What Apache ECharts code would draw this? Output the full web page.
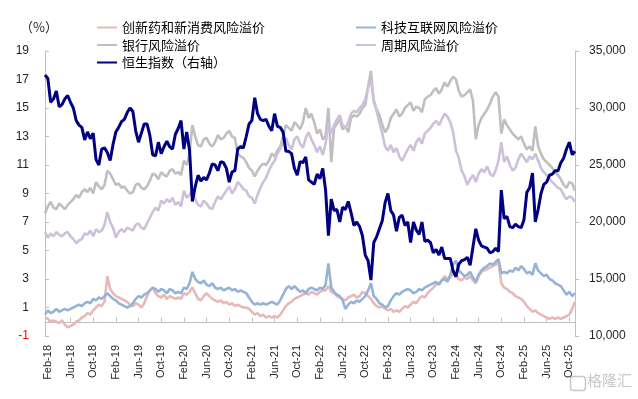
<!DOCTYPE html>
<html>
<head>
<meta charset="utf-8">
<script src="https://cdn.jsdelivr.net/npm/echarts@6/dist/echarts.min.js"></script>
<style>
  html, body { margin: 0; padding: 0; background: #fff; }
  #chart { width: 638px; height: 399px; }
</style>
</head>
<body>
<div id="chart"></div>
<script>
// 半月采样：2018-01-16 起，每月1日、16日，至 2025-11-01
var monthNames = ['Jan', 'Feb', 'Mar', 'Apr', 'May', 'Jun', 'Jul', 'Aug', 'Sep', 'Oct', 'Nov', 'Dec']
var labelMonths = [2, 6, 10]
var dates = ['2018-01-16']
for (var y = 2018; y <= 2025; y++) {
  var m0 = y === 2018 ? 2 : 1
  var m1 = y === 2025 ? 10 : 12
  for (var m = m0; m <= m1; m++) {
    var mm = m < 10 ? '0' + m : '' + m
    dates.push(y + '-' + mm + '-01', y + '-' + mm + '-16')
  }
}
dates.push('2025-11-01')

var leftTicks = { min: -1, max: 19, interval: 2 }
var rightTicks = { min: 10000, max: 35000, interval: 5000 }

// 创新药和新消费风险溢价
var pharmaConsumer = [
  0.3, 0.2, 0.0, 0.1, 0.0, -0.1, 0.1, -0.2, -0.4, -0.3, -0.2, 0.0, 0.1, 0.3, 0.4, 0.6, 0.5, 0.8, 1.0, 1.2, 1.1, 1.4, 3.2,
  2.3, 2.0, 1.8, 1.7, 1.6, 1.5, 1.4, 1.2, 1.1, 1.3, 1.2, 1.0, 1.3, 1.8, 2.2, 2.4, 2.0, 1.8, 1.7, 1.9, 1.6, 1.8, 1.7, 1.6,
  1.7, 1.6, 2.0, 1.9, 2.1, 2.4, 2.0, 1.6, 1.5, 1.8, 2.0, 1.8, 1.6, 1.5, 1.4, 1.5, 1.3, 1.4, 1.2, 1.3, 1.1, 1.2, 1.1, 1.0,
  1.0, 0.9, 0.7, 0.5, 0.6, 0.4, 0.5, 0.3, 0.4, 0.3, 0.4, 0.3, 0.5, 0.8, 1.1, 1.3, 1.4, 1.6, 1.7, 1.8, 1.9, 2.0, 1.9, 2.1,
  2.0, 1.9, 2.1, 2.2, 2.2, 2.5, 2.1, 2.0, 1.8, 1.7, 1.6, 1.5, 1.7, 1.8, 1.9, 1.7, 1.8, 2.1, 2.0, 1.8, 1.6, 1.3, 1.1, 1.0,
  1.1, 0.9, 0.8, 0.9, 0.7, 0.8, 0.7, 0.9, 1.1, 1.0, 1.2, 1.4, 1.3, 1.6, 1.8, 1.7, 2.0, 2.2, 2.4, 2.6, 2.7, 2.9, 3.2, 3.0,
  3.1, 3.4, 3.3, 3.0, 2.9, 3.1, 3.0, 3.2, 2.9, 2.7, 3.2, 3.5, 3.6, 3.7, 3.8, 3.9, 4.0, 4.2, 2.7, 2.4, 2.3, 2.1, 2.0, 1.8,
  1.7, 1.6, 1.4, 1.1, 0.9, 0.7, 0.8, 0.6, 0.5, 0.4, 0.3, 0.2, 0.3, 0.2, 0.3, 0.2, 0.3, 0.4, 0.5, 0.9, 1.4
]
// 科技互联网风险溢价
var techInternet = [
  0.5, 0.8, 0.6, 0.7, 0.9, 0.7, 0.8, 0.9, 0.8, 0.9, 1.0, 1.1, 1.2, 1.1, 1.3, 1.4, 1.3, 1.6, 1.5, 1.7, 1.6, 1.8, 2.0,
  1.8, 1.6, 1.5, 1.3, 1.2, 1.1, 1.0, 1.1, 1.3, 1.6, 1.8, 1.7, 1.9, 2.0, 2.2, 2.4, 2.3, 2.1, 2.3, 2.2, 2.0, 2.3, 2.2, 2.0,
  2.1, 2.0, 2.4, 2.3, 2.7, 3.5, 3.0, 2.8, 2.7, 2.9, 2.6, 2.5, 2.7, 2.4, 2.3, 2.4, 2.2, 2.3, 2.4, 2.2, 2.3, 2.1, 2.2, 2.1,
  2.0, 1.7, 1.4, 1.2, 1.3, 1.2, 1.3, 1.2, 1.3, 1.4, 1.3, 1.2, 1.5, 1.9, 2.3, 2.5, 2.3, 2.5, 2.3, 2.1, 2.2, 2.0, 2.3, 2.4,
  2.3, 2.2, 2.4, 2.3, 2.6, 4.1, 2.4, 2.1, 1.9, 1.8, 1.5, 0.9, 1.2, 1.4, 1.3, 1.5, 1.4, 1.6, 1.8, 2.2, 2.7, 1.8, 1.6, 1.3,
  1.2, 1.0, 1.1, 1.5, 1.8, 2.0, 1.9, 2.1, 2.2, 2.3, 2.2, 2.0, 2.1, 2.3, 2.2, 2.4, 2.5, 2.6, 2.7, 2.8, 2.6, 2.9, 3.0, 2.8,
  3.3, 4.0, 4.3, 3.6, 3.4, 3.2, 3.3, 3.5, 3.1, 2.8, 3.3, 3.6, 3.8, 3.9, 4.1, 4.0, 4.2, 4.4, 3.4, 3.5, 3.4, 3.6, 3.5, 3.8,
  3.6, 3.9, 3.7, 3.4, 3.5, 3.3, 4.1, 3.6, 3.4, 3.2, 3.3, 3.0, 2.9, 2.7, 2.6, 2.5, 2.2, 1.9, 2.1, 1.8, 2.0
]
// 银行风险溢价
var bank = [
  7.6, 8.1, 8.4, 8.0, 7.9, 8.3, 8.1, 7.9, 8.2, 8.4, 8.6, 8.9, 8.7, 9.1, 9.3, 9.1, 9.4, 9.0, 9.8, 9.5, 9.3, 9.6, 10.6,
  10.4, 10.0, 9.6, 9.7, 9.4, 9.5, 9.2, 9.0, 9.1, 9.6, 9.7, 9.4, 9.3, 9.5, 9.9, 10.4, 10.3, 10.0, 10.5, 10.3, 10.2, 10.6, 10.7, 10.4,
  10.5, 10.3, 11.3, 11.0, 11.8, 13.8, 13.0, 12.4, 12.3, 12.8, 12.9, 12.5, 12.3, 12.6, 13.1, 12.8, 12.9, 13.2, 13.4, 13.0, 12.9, 11.8, 11.6, 11.5,
  11.2, 10.8, 10.6, 10.2, 10.6, 10.9, 11.1, 11.0, 11.3, 11.8, 11.6, 12.0, 12.3, 13.0, 13.8, 13.6, 13.4, 14.0, 13.8, 13.5, 14.0, 15.0, 14.3, 14.6,
  14.0, 13.2, 13.5, 12.8, 13.0, 15.0, 11.2, 13.6, 13.9, 14.2, 13.5, 13.7, 13.3, 14.3, 14.5, 14.4, 14.6, 15.0, 15.2, 16.5, 17.6, 15.4, 14.9, 14.5,
  13.8, 13.3, 13.6, 14.3, 14.6, 14.9, 14.4, 14.6, 15.0, 15.2, 15.4, 14.8, 15.1, 15.0, 14.7, 15.6, 15.8, 15.9, 16.2, 16.4, 16.0, 16.3, 16.8, 16.5,
  16.9, 17.2, 17.0, 16.2, 15.8, 15.9, 16.1, 16.3, 15.5, 12.8, 13.8, 14.3, 14.6, 14.9, 15.3, 15.8, 16.1, 15.8, 13.2, 14.2, 13.8, 13.5, 13.2, 13.0,
  12.8, 13.0, 12.5, 12.1, 12.3, 12.0, 13.7, 12.3, 11.8, 11.4, 11.2, 11.0, 10.8, 10.5, 10.3, 10.0, 9.6, 9.4, 9.8, 9.7, 9.2
]
// 周期风险溢价
var cyclical = [
  6.3, 5.9, 6.2, 6.0, 6.3, 6.1, 6.0, 6.2, 6.3, 6.0, 5.8, 5.5, 5.7, 5.8, 6.2, 6.1, 6.4, 6.0, 6.5, 6.3, 6.4, 6.8, 7.7,
  7.0, 6.6, 5.9, 6.3, 6.5, 6.3, 6.6, 6.5, 6.4, 6.8, 6.9, 6.6, 6.5, 6.9, 7.3, 7.7, 8.0, 7.8, 8.5, 8.3, 8.6, 8.4, 8.7, 8.2,
  8.4, 8.1, 9.2, 8.7, 8.9, 9.3, 8.6, 8.2, 8.1, 8.5, 8.3, 8.0, 7.9, 8.4, 8.8, 8.6, 8.9, 9.2, 9.5, 9.0, 9.3, 9.8, 9.6, 9.3,
  9.2, 8.8, 8.7, 8.3, 8.9, 9.4, 9.8, 10.1, 10.6, 11.0, 11.3, 11.8, 12.1, 12.6, 12.9, 12.4, 12.1, 12.8, 13.0, 12.5, 12.2, 12.9, 13.3, 12.8,
  12.4, 11.9, 12.3, 11.7, 12.5, 14.0, 13.2, 13.8, 14.2, 14.5, 13.8, 13.6, 14.0, 14.6, 14.8, 14.7, 15.0, 15.2, 15.6, 16.4, 17.0, 15.6, 14.8, 14.0,
  13.2, 12.3, 12.0, 12.4, 11.9, 12.2, 11.6, 11.3, 11.7, 12.1, 12.4, 12.0, 12.6, 12.9, 12.5, 13.2, 13.4, 13.6, 13.9, 14.1, 13.8, 14.2, 14.6, 14.4,
  14.0, 13.3, 12.0, 11.5, 10.6, 10.2, 9.6, 10.0, 10.3, 9.8, 10.4, 10.7, 10.5, 10.9, 10.4, 10.2, 10.6, 11.3, 12.6, 11.2, 11.6, 11.0, 10.6, 10.8,
  11.4, 11.8, 11.5, 11.2, 11.6, 11.4, 11.8, 11.3, 10.8, 10.5, 10.3, 10.0, 9.8, 9.6, 9.4, 9.3, 8.9, 8.6, 8.8, 8.7, 8.4
]
// 恒生指数（右轴）
var hsi = [
  32900, 32600, 30500, 30800, 31500, 30100, 30300, 30800, 31100, 30500, 30000, 28900, 28500, 28300, 27200, 27900, 27300, 27800, 25500, 25000, 26400, 26500, 26100,
  25400, 26800, 27900, 28300, 28800, 29000, 29600, 30000, 29700, 28000, 27000, 27800, 28600, 28600, 27600, 25900, 25800, 27000, 26000, 26600, 27100, 26600, 26400, 27700,
  28200, 28900, 26400, 27900, 26300, 21800, 23100, 24100, 23600, 23900, 23700, 24300, 25100, 25000, 24500, 25300, 25200, 24700, 23500, 24400, 24500, 26400, 26600, 26500,
  27500, 28600, 28900, 30900, 29500, 29000, 28900, 29000, 28400, 28000, 29500, 28400, 28300, 27900, 26200, 26200, 26000, 24700, 24100, 25300, 25200, 25700, 23700, 23500,
  23300, 24200, 23800, 24700, 22800, 18800, 22000, 21000, 21100, 20000, 21300, 21100, 21800, 20800, 19700, 20000, 19600, 18800, 17100, 16600, 14900, 18200, 18700, 19400,
  20100, 21700, 22500, 21000, 20600, 19200, 20400, 20600, 19700, 20000, 18200, 20000, 19300, 18900, 20000, 18300, 18400, 18200, 17300, 17600, 17100, 17800, 16800, 16800,
  16800, 15700, 15200, 16300, 16600, 16700, 16900, 16200, 17800, 19400, 18400, 17900, 17800, 17700, 17300, 17400, 17700, 17400, 22800, 20300, 20500, 19600, 19500, 19800,
  19600, 19500, 20200, 22600, 23000, 24300, 20000, 21100, 22500, 23300, 23500, 24100, 24200, 24500, 24500, 25200, 25600, 26400, 27000, 25900, 26200
]

var axisColor = '#BFBFBF'
var textColor = '#262626'
var numFont = 'Liberation Sans, Arial, sans-serif'
var cjkFont = 'Noto Sans CJK SC, sans-serif'

function isLabelDate(index, value) {
  var parts = value.split('-')
  return parts[2] === '01' && labelMonths.indexOf(+parts[1]) >= 0
}
function dateLabel(value) {
  var parts = value.split('-')
  return monthNames[+parts[1] - 1] + '-' + parts[0].slice(2)
}
function thousands(v) {
  return String(v).replace(/\B(?=(\d{3})+(?!\d))/g, ',')
}

var chart = echarts.init(document.getElementById('chart'), null, { renderer: 'canvas' })
var option = {
  animation: false,
  backgroundColor: '#fff',
  grid: { left: 45, right: 63, top: 51, bottom: 63 },
  graphic: [
    {
      type: 'text',
      left: 20,
      top: 21,
      style: { text: '（%）', fontSize: 13, fontFamily: cjkFont, fill: textColor }
    },
    {
      type: 'rect',
      left: 568,
      top: 374,
      shape: { width: 15, height: 14, r: 3 },
      style: { fill: 'none', stroke: '#C8C8C8', lineWidth: 1.5 }
    },
    {
      type: 'text',
      left: 587,
      top: 373,
      style: { text: '格隆汇', fontSize: 15, fontFamily: cjkFont, fill: '#C8C8C8' }
    }
  ],
  legend: [
    {
      left: 97,
      top: 21,
      padding: 0,
      orient: 'vertical',
      itemWidth: 20,
      itemHeight: 2,
      itemGap: 4.5,
      icon: 'rect',
      textStyle: { fontSize: 13, fontFamily: cjkFont, color: '#000' },
      data: ['创新药和新消费风险溢价', '银行风险溢价', '恒生指数（右轴）']
    },
    {
      left: 356,
      top: 21,
      padding: 0,
      orient: 'vertical',
      itemWidth: 20,
      itemHeight: 2,
      itemGap: 4.5,
      icon: 'rect',
      textStyle: { fontSize: 13, fontFamily: cjkFont, color: '#000' },
      data: ['科技互联网风险溢价', '周期风险溢价']
    }
  ],
  xAxis: [
    {
      type: 'category',
      data: dates,
      boundaryGap: false,
      axisLine: { onZero: true, onZeroAxisIndex: 0, lineStyle: { color: axisColor, width: 1 } },
      axisTick: { show: true, inside: true, length: 4, interval: isLabelDate, lineStyle: { color: axisColor } },
      axisLabel: { show: false },
      splitLine: { show: false }
    },
    {
      type: 'category',
      data: dates,
      position: 'bottom',
      boundaryGap: false,
      axisLine: { show: false, onZero: false },
      axisTick: { show: false },
      axisLabel: {
        interval: isLabelDate,
        rotate: 90,
        margin: 9,
        fontSize: 11,
        fontFamily: numFont,
        color: textColor,
        formatter: dateLabel
      },
      splitLine: { show: false }
    }
  ],
  yAxis: [
    {
      type: 'value',
      min: leftTicks.min,
      max: leftTicks.max,
      interval: leftTicks.interval,
      axisLine: { show: true, lineStyle: { color: axisColor } },
      axisTick: { show: true, inside: true, length: 4, lineStyle: { color: axisColor } },
      splitLine: { show: false },
      axisLabel: {
        margin: 16,
        fontSize: 12,
        fontFamily: numFont,
        color: textColor,
        showMinLabel: true,
        showMaxLabel: true,
        formatter: function(v) {
          return v < 0 ? '{neg|' + v + '}' : String(v)
        },
        rich: {
          neg: { color: '#FF0000', fontSize: 12, fontFamily: numFont }
        }
      }
    },
    {
      type: 'value',
      position: 'right',
      min: rightTicks.min,
      max: rightTicks.max,
      interval: rightTicks.interval,
      axisLine: { show: true, lineStyle: { color: axisColor } },
      axisTick: { show: true, inside: false, length: 4, lineStyle: { color: axisColor } },
      splitLine: { show: false },
      axisLabel: {
        margin: 14,
        fontSize: 12,
        fontFamily: numFont,
        color: textColor,
        showMinLabel: true,
        showMaxLabel: true,
        formatter: thousands
      }
    }
  ],
  series: [
    {
      name: '银行风险溢价',
      type: 'line',
      data: bank,
      yAxisIndex: 0,
      symbol: 'none',
      color: '#BFBFBF',
      lineStyle: { width: 2.6 },
      z: 2
    },
    {
      name: '周期风险溢价',
      type: 'line',
      data: cyclical,
      yAxisIndex: 0,
      symbol: 'none',
      color: '#CCC0DA',
      lineStyle: { width: 2.6 },
      z: 2
    },
    {
      name: '创新药和新消费风险溢价',
      type: 'line',
      data: pharmaConsumer,
      yAxisIndex: 0,
      symbol: 'none',
      color: '#E6B9B8',
      lineStyle: { width: 2.6 },
      z: 2
    },
    {
      name: '科技互联网风险溢价',
      type: 'line',
      data: techInternet,
      yAxisIndex: 0,
      symbol: 'none',
      color: '#95B3D7',
      lineStyle: { width: 2.6 },
      z: 2
    },
    {
      name: '恒生指数（右轴）',
      type: 'line',
      data: hsi,
      yAxisIndex: 1,
      symbol: 'none',
      color: '#000080',
      lineStyle: { width: 3 },
      z: 3
    }
  ]
}
chart.setOption(option)
</script>
</body>
</html>
